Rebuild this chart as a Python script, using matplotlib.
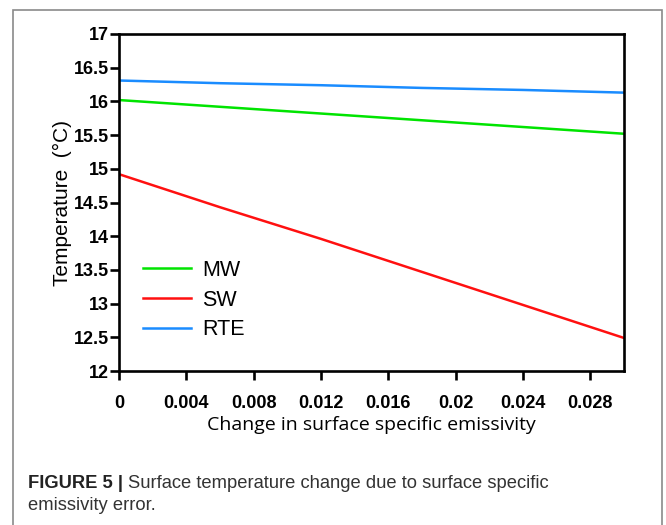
import numpy as np
import matplotlib
matplotlib.use('Agg')
import matplotlib.pyplot as plt
from matplotlib.patches import Rectangle

# values
emissivity_change = [0.0, 0.006, 0.012, 0.018, 0.024, 0.030]
mw = [16.02, 15.92, 15.82, 15.72, 15.62, 15.52]
sw = [14.92, 14.43, 13.96, 13.47, 12.98, 12.49]
rte = [16.31, 16.27, 16.24, 16.20, 16.17, 16.13]

series = [('MW', mw, '#00e400'), ('SW', sw, '#ff1010'), ('RTE', rte, '#1a8cff')]
xticks = [0, 0.004, 0.008, 0.012, 0.016, 0.02, 0.024, 0.028]
xticklabels = ['0', '0.004', '0.008', '0.012', '0.016', '0.02', '0.024', '0.028']
yticks = [12, 12.5, 13, 13.5, 14, 14.5, 15, 15.5, 16, 16.5, 17]
yticklabels = ['12', '12.5', '13', '13.5', '14', '14.5', '15', '15.5', '16', '16.5', '17']

W, H = 666, 525
fig = plt.figure(figsize=(W / 100, H / 100), dpi=100)

# grey frame around the figure panel
fig.patches.append(Rectangle((13 / W, -0.1), (662 - 13) / W, 1.1 - 10 / H,
                             transform=fig.transFigure, fill=False,
                             edgecolor='#8a8a8a', linewidth=1.2))

ax = fig.add_axes([119 / W, 1 - 371 / H, (624 - 119) / W, (371 - 34) / H])
for name, vals, c in series:
    ax.plot(emissivity_change, vals, color=c, lw=1.8, label=name)

ax.set_xlim(0, 0.03)
ax.set_ylim(12, 17)
ax.set_xticks(xticks)
ax.set_xticklabels(xticklabels)
ax.set_yticks(yticks)
ax.set_yticklabels(yticklabels)
for s in ax.spines.values():
    s.set_linewidth(1.9)
ax.tick_params(axis='both', direction='out', length=6.5, width=1.9)
ax.tick_params(axis='x', pad=11)
ax.tick_params(axis='y', pad=1)
for lab in ax.get_xticklabels() + ax.get_yticklabels():
    lab.set_fontfamily('Liberation Sans')
    lab.set_fontweight('bold')
    lab.set_fontsize(13)

ax.set_xlabel('Change in surface specific emissivity', fontfamily='Open Sans',
              fontsize=14, labelpad=2.5)
ax.set_ylabel('Temperature  (°C)', fontfamily='Liberation Sans', fontsize=15,
              labelpad=1)

ax.legend(loc='center left', bbox_to_anchor=(143 / W, 1 - 300 / H),
          bbox_transform=fig.transFigure, frameon=False, borderpad=0,
          borderaxespad=0, handlelength=2.25, handletextpad=0.5,
          labelspacing=0.4, prop={'family': 'Liberation Sans', 'size': 15.5})

# caption
cap_y1 = 1 - 483 / H
cap_y2 = 1 - 506 / H
t1 = fig.text(28 / W, cap_y1, 'FIGURE 5 |', fontfamily='Liberation Sans',
              fontweight='bold', fontsize=13.2, color='#222222', va='center')
fig.canvas.draw()
bb = t1.get_window_extent(fig.canvas.get_renderer())
fig.text(bb.x1 / W + 5 / W, cap_y1,
         'Surface temperature change due to surface specific',
         fontfamily='Liberation Sans', fontsize=13.2, color='#333333', va='center')
fig.text(28 / W, cap_y2, 'emissivity error.', fontfamily='Liberation Sans',
         fontsize=13.2, color='#333333', va='center')

fig.savefig('out.png', dpi=100)
